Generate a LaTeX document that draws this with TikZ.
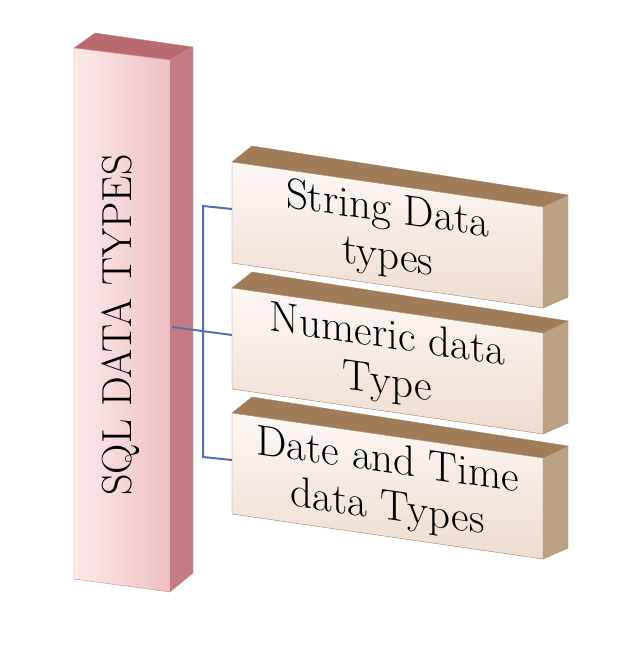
\documentclass[tikz,border=0pt]{standalone}
\usetikzlibrary{positioning}
\definecolor{pinkfront}{HTML}{FDEAEB}
\definecolor{pinkdark}{HTML}{EEC0C3}
\definecolor{pinkside}{HTML}{C47C83}
\definecolor{pinktop}{HTML}{B86A71}
\definecolor{pinkline}{HTML}{C98A90}
\definecolor{tantop}{HTML}{A07C59}
\definecolor{tanside}{HTML}{BDA185}
\definecolor{tanline}{HTML}{A08468}
\definecolor{creamtop}{HTML}{FDF8F5}
\definecolor{creambot}{HTML}{EEDCD0}
\definecolor{linkblue}{HTML}{5470AC}
\newcommand\typebox[3]{%
  \begin{scope}[shift={(232,#2)}]
    \filldraw[boxtop] (0,0) -- (20,-16) -- (336,33) -- (311,45) -- cycle;
    \filldraw[boxside] (311,45) -- (336,33) -- (336,135) -- (311,146) -- cycle;
    \shade[boxfront] (0,0) -- (311,45) -- (311,146) -- (0,101) -- cycle;
    \node[boxtext] (#1) at (155.5,73) {#3};
    \coordinate (#1-in) at (0,47);
  \end{scope}}

\begin{document}
\begin{tikzpicture}[x=1pt,y=-1pt,
    boxtop/.style={fill=tantop,draw=tanline,line width=0.4pt},
    boxside/.style={fill=tanside,draw=tanline,line width=0.4pt},
    boxfront/.style={top color=creamtop,bottom color=creambot,draw=tanline,line width=0.4pt},
    boxtext/.style={align=center,font=\fontsize{43}{47}\selectfont,yslant=-0.145,transform shape},
    link/.style={draw=linkblue,line width=2pt}]
  \useasboundingbox (0,0) rectangle (642,648);
  \fill[white] (0,0) rectangle (642,648);

  \filldraw[fill=pinktop,draw=pinkline,line width=0.4pt] (74,48) -- (95,33) -- (193,47) -- (170,60) -- cycle;
  \filldraw[fill=pinkside,draw=pinkline,line width=0.4pt] (170,60) -- (193,47) -- (193,573) -- (170,592) -- cycle;
  \shade[left color=pinkfront,right color=pinkdark,draw=pinkline,line width=0.4pt] (74,48) -- (170,60) -- (170,592) -- (74,579) -- cycle;
  \node[rotate=90,font=\fontsize{42}{46}\selectfont] (sql) at (121,325) {SQL DATA TYPES};
  \coordinate (sql-out) at (172,327);

  \typebox{str}{162}{String Data\\types}
  \typebox{num}{288}{Numeric data\\Type}
  \typebox{dat}{413}{Date and Time\\data Types}

  \coordinate (trunk-top) at (203,206);
  \coordinate (trunk-bot) at (203,457);
  \draw[link] (str-in) -- (trunk-top) -- (trunk-bot) -- (dat-in);
  \draw[link] (sql-out) -- (num-in);
\end{tikzpicture}
\end{document}
